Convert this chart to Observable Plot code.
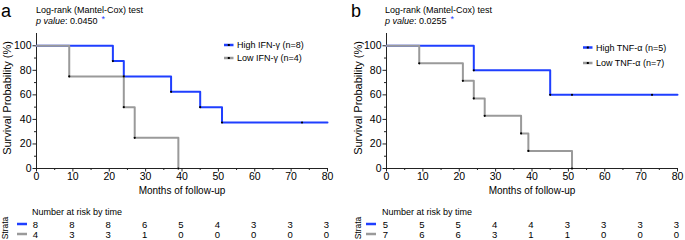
<!DOCTYPE html>
<html><head><meta charset="utf-8">
<script src="https://cdn.jsdelivr.net/npm/d3@7"></script>
<script src="https://cdn.jsdelivr.net/npm/@observablehq/plot@0.6"></script>
<style>
body{margin:0;background:#fff;}
#fig{position:relative;width:685px;height:240px;overflow:hidden;background:#fff;font-family:"Liberation Sans",Arial,sans-serif;}
#fig > svg, #fig > div{position:absolute;}
</style></head><body><div id="fig"></div>
<script>
// ---- data ----
const months = [0, 10, 20, 30, 40, 50, 60, 70, 80];
const yTicks = [0, 20, 40, 60, 80, 100];
const yMinor = [10, 30, 50, 70, 90];
const xMinor = [5, 15, 25, 35, 45, 55, 65, 75];

const ifnLabels = ["High IFN-γ (n=8)", "Low IFN-γ (n=4)"];
const ifnP = "0.0450";
const ifnHighTime = [0, 21, 24, 37, 45, 51, 73, 80];
const ifnHighSurv = [100, 87.5, 75, 62.5, 50, 37.5, 37.5, 37.5];
const ifnLowTime = [0, 9, 24, 27, 39];
const ifnLowSurv = [100, 75, 50, 25, 0];
const ifnHighRisk = [8, 8, 8, 6, 5, 4, 3, 3, 3];
const ifnLowRisk = [4, 3, 3, 1, 0, 0, 0, 0, 0];

const tnfLabels = ["High TNF-α (n=5)", "Low TNF-α (n=7)"];
const tnfP = "0.0255";
const tnfHighTime = [0, 24, 45, 51, 73, 80];
const tnfHighSurv = [100, 80, 60, 60, 60, 60];
const tnfLowTime = [0, 9, 21, 24, 27, 37, 39, 51];
const tnfLowSurv = [100, 85.7, 71.4, 57.1, 42.9, 28.6, 14.3, 0];
const tnfHighRisk = [5, 5, 5, 4, 4, 3, 3, 3, 3];
const tnfLowRisk = [7, 6, 6, 3, 1, 1, 0, 0, 0];

// ---- style ----
const BLUE = "#1f3fff";
const GRAY = "#9a9a9a";
const FONT = "Liberation Sans, Arial, sans-serif";
const XMAX = 80;

const fig = document.getElementById("fig");
const NS = "http://www.w3.org/2000/svg";
const overlay = document.createElementNS(NS, "svg");
overlay.setAttribute("width", 685);
overlay.setAttribute("height", 240);
overlay.style.left = "0px"; overlay.style.top = "0px";
overlay.style.fontFamily = FONT;

function el(tag, attrs, parent, text) {
  const e = document.createElementNS(NS, tag);
  for (const k in attrs) e.setAttribute(k, attrs[k]);
  if (text != null) e.textContent = text;
  (parent || overlay).appendChild(e);
  return e;
}

function panel(cfg) {
  const high = cfg.highT.map((t, i) => ({t, s: cfg.highS[i]}));
  const low = cfg.lowT.map((t, i) => ({t, s: cfg.lowS[i]}));
  const marked = d => d.t > 0 && d.t < XMAX;

  const main = Plot.plot({
    width: cfg.width, height: 172,
    marginTop: 5, marginBottom: 32, marginLeft: cfg.ml, marginRight: cfg.mr,
    style: {fontFamily: FONT, fontSize: "10.5px", color: "#000", background: "transparent", overflow: "visible"},
    x: {domain: [0, XMAX]},
    y: {domain: [0, 110]},
    marks: [
      Plot.axisX({ticks: months, tickSize: 3.5, tickPadding: 1, label: null, stroke: "#222"}),
      Plot.axisX({ticks: xMinor, tickSize: 2, text: null, label: null, stroke: "#222"}),
      Plot.axisY({ticks: yTicks, tickSize: 3.5, tickPadding: 1.5, label: null, stroke: "#222"}),
      Plot.axisY({ticks: yMinor, tickSize: 2, text: null, label: null, stroke: "#222"}),
      Plot.ruleX([0], {stroke: "#222"}),
      Plot.ruleY([0], {stroke: "#222"}),
      Plot.line(high, {x: "t", y: "s", curve: "step-after", stroke: BLUE, strokeWidth: 2}),
      Plot.line(low, {x: "t", y: "s", curve: "step-after", stroke: GRAY, strokeWidth: 2}),
      Plot.dot(high.filter(marked), {x: "t", y: "s", r: 1.1, fill: "#000"}),
      Plot.dot(low.filter(marked), {x: "t", y: "s", r: 1.1, fill: "#000"}),
      Plot.text(["Survival Probability (%)"], {text: d => d, frameAnchor: "left", textAnchor: "middle", rotate: -90, dx: cfg.ylabDx, dy: -3, fontSize: 11}),
      Plot.text(["Months of follow-up"], {text: d => d, frameAnchor: "bottom", textAnchor: "middle", dy: 25, fontSize: 10})
    ]
  });
  main.style.left = cfg.left + "px";
  main.style.top = "28px";
  fig.appendChild(main);

  const risk = [];
  months.forEach((m, i) => {
    risk.push({t: m, g: "high", n: cfg.highRisk[i]});
    risk.push({t: m, g: "low", n: cfg.lowRisk[i]});
  });
  const rp = Plot.plot({
    width: cfg.width, height: 20,
    marginTop: 0, marginBottom: 0, marginLeft: cfg.ml, marginRight: cfg.mr,
    style: {fontFamily: FONT, fontSize: "9.5px", color: "#000", background: "transparent", overflow: "visible"},
    x: {domain: [0, XMAX], axis: null},
    y: {domain: ["high", "low"], axis: null},
    marks: [Plot.text(risk, {x: "t", y: "g", text: "n", dx: -1, fontSize: 9.5})]
  });
  rp.style.left = cfg.left + "px";
  rp.style.top = "219px";
  fig.appendChild(rp);

  // headers
  el("text", {x: cfg.letterX, y: 16.5, "font-size": 18}, null, cfg.letter);
  el("text", {x: cfg.titleX, y: 13, "font-size": 9}, null, "Log-rank (Mantel-Cox) test");
  const p = el("text", {x: cfg.titleX, y: 24, "font-size": 9});
  el("tspan", {"font-style": "italic"}, p, "p value");
  el("tspan", {}, p, ": " + cfg.p);
  el("tspan", {fill: BLUE, dx: 4, dy: -2, "font-size": 9}, p, "*");

  // legend
  [[BLUE, cfg.labels[0], cfg.legY[0]], [GRAY, cfg.labels[1], cfg.legY[1]]].forEach(([c, lab, y]) => {
    el("line", {x1: cfg.legX, x2: cfg.legX + 9.5, y1: y, y2: y, stroke: c, "stroke-width": 2.5});
    el("rect", {x: cfg.legX + 3.8, y: y - 1, width: 2, height: 2, fill: "#000"});
    el("text", {x: cfg.legX + 13, y: y + 3.2, "font-size": 9}, null, lab);
  });

  // risk table header
  el("text", {x: cfg.riskX, y: 214.5, "font-size": 9}, null, "Number at risk by time");
  el("text", {x: 0, y: 0, "font-size": 8.5, "text-anchor": "middle",
    transform: `translate(${cfg.strataX + 6},228) rotate(-90)`}, null, "Strata");
  el("line", {x1: cfg.dashX, x2: cfg.dashX + 10, y1: 224, y2: 224, stroke: BLUE, "stroke-width": 2.5});
  el("line", {x1: cfg.dashX, x2: cfg.dashX + 10, y1: 234, y2: 234, stroke: GRAY, "stroke-width": 2.5});
}

panel({left: 0, width: 340, ml: 36, mr: 13, ylabDx: -29,
  letter: "a", letterX: 1, titleX: 36, p: ifnP, labels: ifnLabels,
  highT: ifnHighTime, highS: ifnHighSurv, lowT: ifnLowTime, lowS: ifnLowSurv,
  highRisk: ifnHighRisk, lowRisk: ifnLowRisk,
  legX: 224, legY: [45, 58], riskX: 32, strataX: 2, dashX: 17});

panel({left: 349, width: 336, ml: 37, mr: 8, ylabDx: -28,
  letter: "b", letterX: 351, titleX: 385, p: tnfP, labels: tnfLabels,
  highT: tnfHighTime, highS: tnfHighSurv, lowT: tnfLowTime, lowS: tnfLowSurv,
  highRisk: tnfHighRisk, lowRisk: tnfLowRisk,
  legX: 583, legY: [47.5, 63], riskX: 382, strataX: 355, dashX: 366});

fig.appendChild(overlay);
</script>
</body></html>
